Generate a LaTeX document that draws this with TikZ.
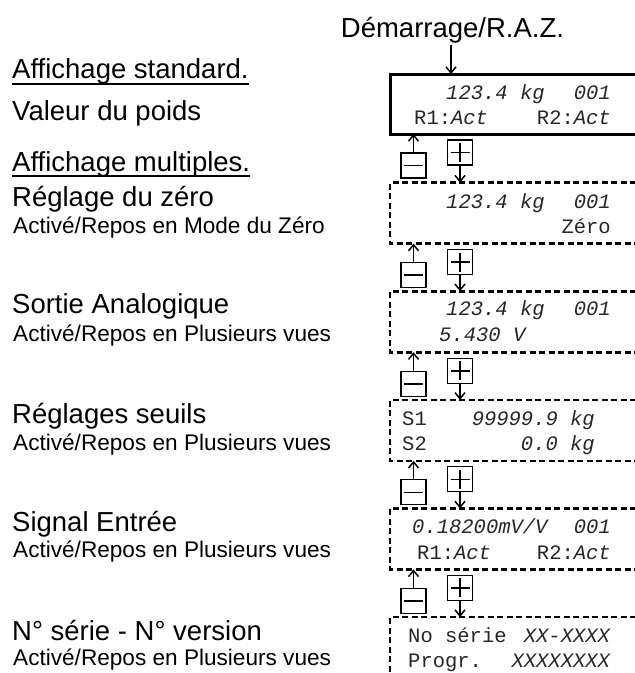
\documentclass[tikz,border=0pt]{standalone}
\usepackage{fontspec}
\setmainfont{Liberation Sans}
\setmonofont{Liberation Mono}
\usetikzlibrary{arrows.meta}
\tikzset{
  big/.style={anchor=base west, inner sep=0pt, font=\fontsize{27.5}{33}\selectfont},
  small/.style={anchor=base west, inner sep=0pt, font=\fontsize{22.6}{27}\selectfont},
  lcd/.style={inner sep=0pt, font=\fontsize{20.5}{24}\selectfont\ttfamily, text=black!85},
  lcdl/.style={lcd, anchor=base west},
  lcdr/.style={lcd, anchor=base east},
  disp/.style={minimum width=246pt, minimum height=61pt, anchor=north west, inner sep=0pt, outer sep=0pt},
  solidbox/.style={line width=3pt},
  dashbox/.style={line width=2.6pt, dash pattern=on 6pt off 3.5pt},
  key/.style={draw, line width=1.2pt, minimum size=25pt, inner sep=0pt, outer sep=0pt},
  minuskey/.style={key, path picture={\draw[line width=1.6pt] ([xshift=3pt]path picture bounding box.west) -- ([xshift=-3pt]path picture bounding box.east);}},
  pluskey/.style={key, path picture={\draw[line width=1.6pt] ([xshift=3pt]path picture bounding box.west) -- ([xshift=-3pt]path picture bounding box.east);
      \draw[line width=1.6pt] ([yshift=-3pt]path picture bounding box.north) -- ([yshift=3pt]path picture bounding box.south);}},
  arr/.style={line width=1.5pt, -{Straight Barb[length=6pt,width=10pt]}},
  uline/.style={line width=2pt}
}
\begin{document}
\begin{tikzpicture}[x=1pt,y=-1pt]
\useasboundingbox (0,0) rectangle (635,673);

% left labels
\node[big] (h1) at (12,78.5) {Affichage standard.};
\draw[uline] ([yshift=-5pt]h1.base west) -- ([yshift=-5pt]h1.base east);
\node[big] (v1) at (12,120) {Valeur du poids};
\node[big] (h2) at (12,171) {Affichage multiples.};
\draw[uline] ([yshift=-5pt]h2.base west) -- ([yshift=-5pt]h2.base east);
\node[big] (l2) at (12,206.5) {Réglage du zéro};
\node[small] (s2) at (13,233) {Activé/Repos en Mode du Zéro};
\node[big] (l3) at (12,313.5) {Sortie Analogique};
\node[small] (s3) at (13,341) {Activé/Repos en Plusieurs vues};
\node[big] (l4) at (12,423) {Réglages seuils};
\node[small] (s4) at (13,450) {Activé/Repos en Plusieurs vues};
\node[big] (l5) at (12,531.5) {Signal Entrée};
\node[small] (s5) at (13,557) {Activé/Repos en Plusieurs vues};
\node[big] (l6) at (12,640) {N° série - N° version};
\node[small] (s6) at (13,665.5) {Activé/Repos en Plusieurs vues};

% title
\node[big, anchor=base] (title) at (452.5,37) {Démarrage/R.A.Z.};

% displays
\node[disp, minimum height=60pt] (d1) at (390,74) {};
\node[disp] (d2) at (390,182.6) {};
\node[disp] (d3) at (390,291.2) {};
\node[disp] (d4) at (390,399.8) {};
\node[disp] (d5) at (390,508.4) {};
\node[disp, minimum height=56pt] (d6) at (390,617) {};

\draw[solidbox] (d1.north east) -- (d1.north west) -- (d1.south west) -- (d1.south east);
\foreach \d in {d2,d3,d4,d5}
  \draw[dashbox] (\d.north east) -- (\d.north west) -- (\d.south west) -- (\d.south east);
\draw[dashbox] (d6.north east) -- (d6.north west) -- (d6.south west);

% start arrow
\coordinate (sx) at (451,0);
\draw[arr] ([yshift=-2pt]title.south -| sx) -- (sx |- d1.north);

% keys and arrows
\foreach \k [evaluate=\k as \n using int(\k+1)] in {1,...,5} {
  \node[minuskey] (m\k) at ([xshift=23.5pt, yshift=-31.5pt]d\k.south west) {};
  \node[pluskey] (p\k) at ([xshift=70pt, yshift=-18.5pt]d\k.south west) {};
  \draw[arr] (m\k.north) -- (m\k.north |- d\k.south);
  \draw[arr] (p\k.south) -- (p\k.south |- d\n.north);
}

% display texts
% d1
\node[lcdl] (t1a) at (446,99.5) {\textit{123.4 kg}};
\node[lcdr] (t1b) at (611,99.5) {\textit{001}};
\node[lcdl] (t1c) at (414,124.5) {R1:\textit{Act}};
\node[lcdr] (t1d) at (611,124.5) {R2:\textit{Act}};
% d2
\node[lcdl] (t2a) at (446,208.1) {\textit{123.4 kg}};
\node[lcdr] (t2b) at (611,208.1) {\textit{001}};
\node[lcdr] (t2c) at (611,233.1) {Zéro};
% d3
\node[lcdl] (t3a) at (446,315.7) {\textit{123.4 kg}};
\node[lcdr] (t3b) at (611,315.7) {\textit{001}};
\node[lcdl] (t3c) at (439,341.7) {\textit{5.430 V}};
% d4
\node[lcdl] (t4a) at (402,425.3) {S1};
\node[lcdr] (t4b) at (595,425.3) {\textit{99999.9 kg}};
\node[lcdl] (t4c) at (402,450.3) {S2};
\node[lcdr] (t4d) at (595,450.3) {\textit{0.0 kg}};
% d5
\node[lcdl] (t5a) at (412,533.9) {\textit{0.18200mV/V}};
\node[lcdr] (t5b) at (611,533.9) {\textit{001}};
\node[lcdl] (t5c) at (417,559.9) {R1:\textit{Act}};
\node[lcdr] (t5d) at (611,559.9) {R2:\textit{Act}};
% d6
\node[lcdl] (t6a) at (408,642.5) {No série};
\node[lcdr] (t6b) at (611,642.5) {\textit{XX-XXXX}};
\node[lcdl] (t6c) at (408,667.5) {Progr.};
\node[lcdr] (t6d) at (611,667.5) {\textit{XXXXXXXX}};
\end{tikzpicture}
\end{document}
